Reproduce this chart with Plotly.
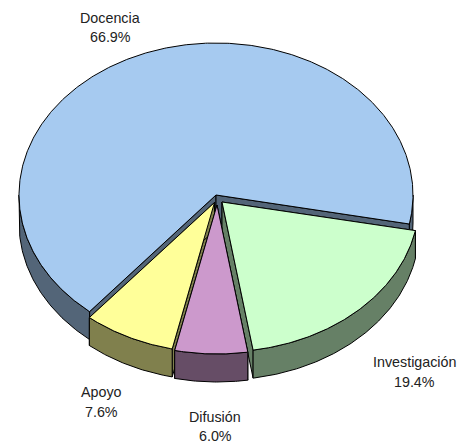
import numpy as np
import plotly.graph_objects as go

# Data
categories = ["Docencia", "Investigación", "Difusión", "Apoyo"]
percents = [66.9, 19.4, 6.0, 7.6]

# Styles
top_colors = ["#A6CAF0", "#CCFFCC", "#CC99CC", "#FFFF99"]
side_colors = ["#536578", "#668066", "#664D66", "#80804D"]

# Layout of the drawing
W, H = 459, 443
START = 11.0      # screen-clockwise degrees from the +x direction
DEPTH = 28
centers = {"Docencia": (216, 195), "Investigación": (222, 202),
           "Difusión": (217, 205), "Apoyo": (214.5, 202.5)}
radii = {"Docencia": (197, 152), "Investigación": (197, 150),
         "Difusión": (195, 149), "Apoyo": (195, 150)}
label_pos = {"Docencia": (110, 17.5, 36.5), "Investigación": (414, 361.5, 381.5),
             "Difusión": (215, 416.5, 435.5), "Apoyo": (101, 391.5, 411.5)}
draw_order = ["Docencia", "Apoyo", "Investigación", "Difusión"]

fig = go.Figure()


def poly(xs, ys, color):
    fig.add_trace(go.Scatter(
        x=np.r_[xs, xs[0]], y=np.r_[ys, ys[0]], mode="lines", fill="toself",
        fillcolor=color, line=dict(color="#000000", width=1),
        hoverinfo="skip", showlegend=False))


def arc(c, r, a, b):
    t = np.radians(np.linspace(a, b, max(int(abs(b - a)) * 2, 2) + 1))
    return c[0] + r[0] * np.cos(t), c[1] + r[1] * np.sin(t)


# Angular span of each slice, from the values
total = sum(percents)
order = [categories.index(n) for n in ["Investigación", "Difusión", "Apoyo", "Docencia"]]
spans = {}
a = START
for i in order:
    b = a + percents[i] / total * 360
    spans[categories[i]] = (a, b)
    a = b

for name in draw_order:
    i = categories.index(name)
    c, r = centers[name], radii[name]
    a, b = spans[name]
    # radial walls
    for ang in (a, b):
        ex, ey = arc(c, r, ang, ang)
        ex, ey = ex[0], ey[0]
        poly(np.array([c[0], ex, ex, c[0]]),
             np.array([c[1], ey, ey + DEPTH, c[1] + DEPTH]), side_colors[i])
    # outer wall: only the part on the near half of the ellipse
    for lo, hi in ((0, 180), (360, 540)):
        s, e = max(a, lo), min(b, hi)
        if e > s:
            x, y = arc(c, r, s, e)
            poly(np.r_[x, x[::-1]], np.r_[y, y[::-1] + DEPTH], side_colors[i])
    # top face
    x, y = arc(c, r, a, b)
    poly(np.r_[c[0], x], np.r_[c[1], y], top_colors[i])

font = dict(family="Liberation Sans, Arial, sans-serif", size=14.3, color="#222222")
for name, p in zip(categories, percents):
    lx, y1, y2 = label_pos[name]
    fig.add_annotation(x=lx, y=y1, text=name, showarrow=False, font=font)
    fig.add_annotation(x=lx, y=y2, text=f"{p:.1f}%", showarrow=False, font=font)

fig.update_layout(
    width=W, height=H, margin=dict(l=0, r=0, t=0, b=0),
    paper_bgcolor="white", plot_bgcolor="white", showlegend=False,
    xaxis=dict(range=[0, W], visible=False, fixedrange=True),
    yaxis=dict(range=[H, 0], visible=False, fixedrange=True),
)
fig.write_html("out.html", config={"displayModeBar": False},
               post_script="document.body.style.margin='0';")
